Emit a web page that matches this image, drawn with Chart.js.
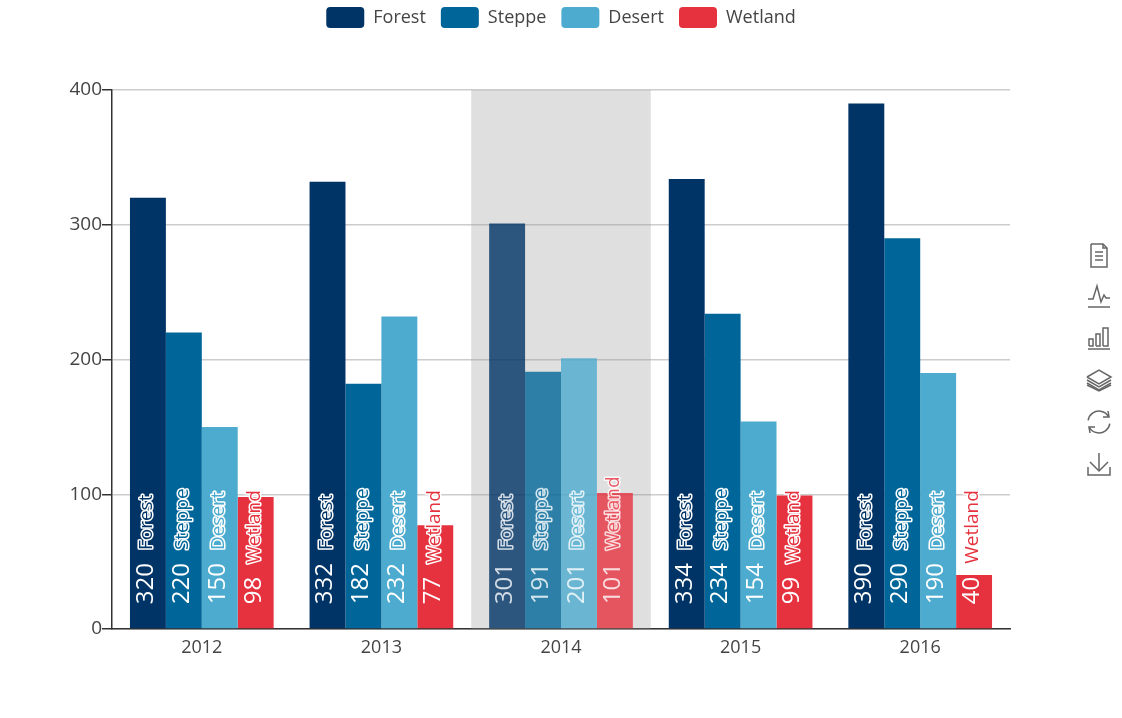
<!DOCTYPE html>
<html>
<head>
<meta charset="utf-8">
<style>
html, body { margin: 0; padding: 0; background: #fff; }
canvas { display: block; }
</style>
<script src="https://cdn.jsdelivr.net/npm/chart.js@4"></script>
</head>
<body>
<canvas id="chart" width="1122" height="718"></canvas>
<script>
const years = ['2012', '2013', '2014', '2015', '2016'];
const forest = [320, 332, 301, 334, 390];
const steppe = [220, 182, 191, 234, 290];
const desert = [150, 232, 201, 154, 190];
const wetland = [98, 77, 101, 99, 40];
const yTicks = [0, 100, 200, 300, 400];
const highlightedYear = '2014';

const FONT = '"Open Sans", sans-serif';
const colors = { Forest: '#003366', Steppe: '#006699', Desert: '#4cabce', Wetland: '#e5323e' };

const fadeHex = (hex, alpha) => {
    const n = parseInt(hex.slice(1), 16);
    return `rgba(${n >> 16}, ${(n >> 8) & 255}, ${n & 255}, ${alpha})`;
};

const makeDataset = (label, data) => ({
    label,
    data,
    backgroundColor: years.map(y => y === highlightedYear ? fadeHex(colors[label], 0.8) : colors[label]),
    borderWidth: 0
});

// legend keeps 90px above the plot and centres on the whole page
const legendPlacePlugin = {
    id: 'legendPlace',
    beforeInit(chart) {
        const fit = chart.legend.fit;
        chart.legend.fit = function () {
            fit.call(this);
            this.height = 90;
        };
    },
    afterLayout(chart) {
        const legend = chart.legend;
        legend.left = 0;
        legend.right = 1122;
        legend.width = 1122;
        legend.top = -8;
        legend.adjustHitBoxes();
    }
};

// grey band behind the hovered year
const bandPlugin = {
    id: 'band',
    beforeDatasetsDraw(chart) {
        const { ctx, chartArea, scales } = chart;
        const step = scales.x.width / years.length;
        const center = scales.x.getPixelForValue(years.indexOf(highlightedYear));
        ctx.save();
        ctx.fillStyle = 'rgba(150, 150, 150, 0.3)';
        ctx.fillRect(center - step / 2, chartArea.top, step, chartArea.bottom - chartArea.top);
        ctx.restore();
    }
};

// rotated "value  name" labels sitting at the foot of each bar
const barLabelPlugin = {
    id: 'barLabels',
    afterDatasetsDraw(chart) {
        const { ctx } = chart;
        chart.data.datasets.forEach((ds, i) => {
            chart.getDatasetMeta(i).data.forEach((bar, j) => {
                const faded = years[j] === highlightedYear;
                ctx.save();
                ctx.globalAlpha = faded ? 0.8 : 1;
                ctx.translate(bar.x, bar.base);
                ctx.rotate(-Math.PI / 2);
                ctx.textBaseline = 'middle';
                ctx.textAlign = 'left';
                const value = String(ds.data[j]);
                ctx.font = '24px ' + FONT;
                ctx.fillStyle = '#fff';
                ctx.fillText(value, 24, -2);
                const w = ctx.measureText(value).width;
                ctx.font = '19px ' + FONT;
                ctx.lineJoin = 'round';
                ctx.lineWidth = 3;
                ctx.strokeStyle = '#fff';
                ctx.strokeText(ds.label, 24 + w + 13, -1);
                ctx.fillStyle = colors[ds.label];
                ctx.fillText(ds.label, 24 + w + 13, -1);
                ctx.restore();
            });
        });
    }
};

// toolbox icons down the right side
const toolboxPlugin = {
    id: 'toolbox',
    afterDraw(chart) {
        const { ctx } = chart;
        const cx = 1099;
        const at = (y, pts) => {
            ctx.beginPath();
            pts.forEach((p, i) => i ? ctx.lineTo(cx + p[0], y + p[1]) : ctx.moveTo(cx + p[0], y + p[1]));
            ctx.stroke();
        };
        ctx.save();
        ctx.strokeStyle = '#666';
        ctx.lineWidth = 1.5;

        // data view
        at(255, [[-8, -11], [4, -11], [8, -7], [8, 12], [-8, 12], [-8, -11]]);
        at(255, [[4, -11], [4, -7], [8, -7]]);
        at(255, [[-4, -3], [4, -3]]);
        at(255, [[-4, 1], [4, 1]]);
        at(255, [[-4, 5], [4, 5]]);

        // line
        at(296, [[-11, 11], [11, 11]]);
        at(296, [[-11, 3], [-6, 3], [-2, -10], [2, 6], [5, -1], [7, 2], [11, 2]]);

        // bar
        at(338, [[-11, 11], [11, 11]]);
        at(338, [[-10, 8], [-10, 1], [-6, 1], [-6, 8], [-10, 8]]);
        at(338, [[-3, 8], [-3, -4], [1, -4], [1, 8], [-3, 8]]);
        at(338, [[4, 8], [4, -10], [9, -10], [9, 8], [4, 8]]);

        // stack
        at(380, [[-12, -3], [0, -10], [12, -3], [0, 4], [-12, -3]]);
        at(380, [[-12, 0], [0, 7], [12, 0]]);
        at(380, [[-12, 3], [0, 10], [12, 3]]);
        at(380, [[-12, 5], [0, 11], [12, 5]]);

        // restore
        ctx.beginPath();
        ctx.arc(cx, 422, 11, Math.PI * 1.05, Math.PI * 1.85);
        ctx.stroke();
        ctx.beginPath();
        ctx.arc(cx, 422, 11, Math.PI * 0.05, Math.PI * 0.85);
        ctx.stroke();
        at(422, [[9, -11], [10, -5], [4, -5]]);
        at(422, [[-9, 11], [-10, 5], [-4, 5]]);

        // save image
        at(464, [[-11, 3], [-11, 11], [11, 11], [11, 3]]);
        at(464, [[0, -11], [0, 7]]);
        at(464, [[-9, -2], [0, 7], [9, -2]]);
        ctx.restore();
    }
};

new Chart(document.getElementById('chart'), {
    type: 'bar',
    data: {
        labels: years,
        datasets: [
            makeDataset('Forest', forest),
            makeDataset('Steppe', steppe),
            makeDataset('Desert', desert),
            makeDataset('Wetland', wetland)
        ]
    },
    plugins: [legendPlacePlugin, bandPlugin, barLabelPlugin, toolboxPlugin],
    options: {
        responsive: false,
        animation: false,
        layout: { padding: { left: 0, right: 112, top: 0, bottom: 0 } },
        datasets: { bar: { categoryPercentage: 0.8, barPercentage: 1 } },
        scales: {
            x: {
                grid: { display: false, drawTicks: false },
                border: { color: '#333', width: 1.5 },
                ticks: { color: '#444', padding: 8, font: { family: FONT, size: 18 } },
                afterFit: s => { s.height = 89; }
            },
            y: {
                min: 0,
                max: 400,
                afterBuildTicks: s => { s.ticks = yTicks.map(value => ({ value })); },
                grid: { color: '#ccc', lineWidth: 1.5, tickColor: '#333', tickLength: 10 },
                border: { color: '#333', width: 1.5 },
                ticks: { color: '#444', padding: 0, font: { family: FONT, size: 19 } },
                afterFit: s => { s.width = 112; }
            }
        },
        plugins: {
            tooltip: { enabled: false },
            legend: {
                position: 'top',
                align: 'center',
                labels: {
                    boxWidth: 38,
                    boxHeight: 21,
                    useBorderRadius: true,
                    borderRadius: 4,
                    padding: 15,
                    color: '#444',
                    font: { family: FONT, size: 18 }
                }
            }
        }
    }
});
</script>
</body>
</html>
